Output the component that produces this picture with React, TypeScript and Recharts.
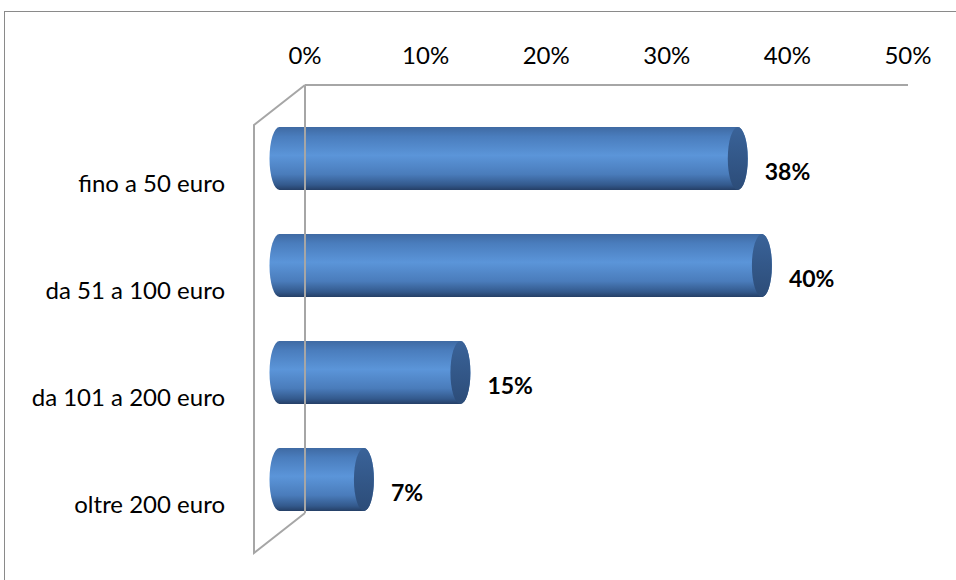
import React from 'react';
import { BarChart, Bar, XAxis, YAxis, ReferenceLine, LabelList } from 'recharts';

const categories = ['fino a 50 euro', 'da 51 a 100 euro', 'da 101 a 200 euro', 'oltre 200 euro'];
const values = [38, 40, 15, 7];
const xTicks = [0, 10, 20, 30, 40, 50];

const data = categories.map((name, i) => ({ name, value: values[i] }));

// depth of the 3D frame (back wall -> front wall)
const DEPTH_X = -51;
const DEPTH_Y = 40;
const FONT = 'Lato, "Open Sans", sans-serif';
const FRAME = '#a6a6a6';

const Cylinder = (props: any) => {
  const { x, y, width, height } = props;
  const x0 = x + DEPTH_X / 2;
  const top = y + DEPTH_Y / 2;
  const x1 = x0 + width;
  const ry = height / 2;
  const rx = 10;
  const body = `M${x0},${top} L${x1},${top} A${rx},${ry} 0 0 1 ${x1},${top + height} L${x0},${top + height} A${rx},${ry} 0 0 1 ${x0},${top} Z`;
  return (
    <g>
      <path d={body} fill="url(#cylBody)" />
      <ellipse cx={x1} cy={top + ry} rx={rx} ry={ry} fill="url(#cylCap)" />
    </g>
  );
};

// left side wall of the 3D frame
const Frame = (props: any) => {
  const { x1, y1, y2 } = props;
  const pts = [
    [x1, y1],
    [x1 + DEPTH_X, y1 + DEPTH_Y],
    [x1 + DEPTH_X, y2 + DEPTH_Y],
    [x1, y2],
  ]
    .map((p) => p.join(','))
    .join(' ');
  return <polyline points={pts} fill="none" stroke={FRAME} strokeWidth={2} />;
};

const CategoryTick = (props: any) => {
  const { x, y, payload } = props;
  return (
    <text x={x - 78} y={y + 44} textAnchor="end" dominantBaseline="central" fontSize={24} fill="#000" fontFamily={FONT}>
      {payload.value}
    </text>
  );
};

const PercentTick = (props: any) => {
  const { x, payload } = props;
  return (
    <text x={x} y={54} textAnchor="middle" dominantBaseline="central" fontSize={24} fill="#000" fontFamily={FONT}>
      {payload.value}%
    </text>
  );
};

const ValueLabel = (props: any) => {
  const { x, y, width, height, value } = props;
  return (
    <text
      x={x + width + DEPTH_X / 2 + 27}
      y={y + height / 2 + DEPTH_Y / 2 + 12}
      dominantBaseline="central"
      fontSize={23}
      fontWeight="bold"
      fill="#000"
      fontFamily={FONT}
    >
      {value}%
    </text>
  );
};

export default function App() {
  return (
    <div style={{ position: 'absolute', left: 0, top: 0, width: 956, height: 580, background: '#fff' }}>
      <div
        style={{
          position: 'absolute',
          left: 4,
          top: 11,
          right: 0,
          bottom: 0,
          borderLeft: '1px solid #8a8a8a',
          borderTop: '1px solid #8a8a8a',
        }}
      />
      <BarChart
        width={956}
        height={580}
        data={data}
        layout="vertical"
        margin={{ top: 0, right: 48, left: 0, bottom: 67 }}
        style={{ position: 'absolute', left: 0, top: 0 }}
      >
        <defs>
          <linearGradient id="cylBody" x1="0" y1="0" x2="0" y2="1">
            <stop offset="0%" stopColor="#3f6aa3" />
            <stop offset="15%" stopColor="#4a7dbd" />
            <stop offset="45%" stopColor="#5b95d9" />
            <stop offset="75%" stopColor="#4a7cbb" />
            <stop offset="92%" stopColor="#33598c" />
            <stop offset="100%" stopColor="#253f66" />
          </linearGradient>
          <linearGradient id="cylCap" x1="0" y1="0" x2="0" y2="1">
            <stop offset="0%" stopColor="#3a6399" />
            <stop offset="100%" stopColor="#2c4c78" />
          </linearGradient>
        </defs>
        <ReferenceLine x={0} shape={<Frame />} />
        <XAxis
          type="number"
          orientation="top"
          domain={[0, 50]}
          ticks={xTicks}
          height={85}
          tick={<PercentTick />}
          tickLine={false}
          axisLine={{ stroke: FRAME, strokeWidth: 2 }}
        />
        <YAxis
          type="category"
          dataKey="name"
          width={305}
          tick={<CategoryTick />}
          tickLine={false}
          tickSize={0}
          axisLine={{ stroke: FRAME, strokeWidth: 2 }}
        />
        <Bar dataKey="value" barSize={63} shape={<Cylinder />} isAnimationActive={false}>
          <LabelList dataKey="value" content={<ValueLabel />} />
        </Bar>
      </BarChart>
    </div>
  );
}
